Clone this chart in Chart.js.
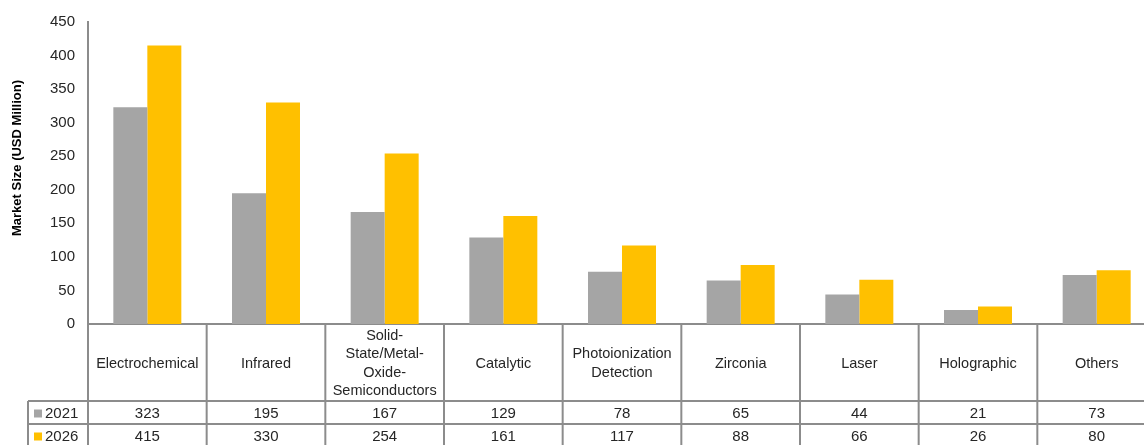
<!DOCTYPE html>
<html>
<head>
<meta charset="utf-8">
<script src="https://cdn.jsdelivr.net/npm/chart.js@4"></script>
<style>
  html, body { margin: 0; padding: 0; background: #fff; overflow: hidden; }
  #wrap { width: 1144px; height: 445px; overflow: hidden; }
  canvas { display: block; }
</style>
</head>
<body>
<div id="wrap"><canvas id="chart" width="1160" height="445"></canvas></div>
<script>
  var categories = [
    "Electrochemical",
    "Infrared",
    ["Solid-", "State/Metal-", "Oxide-", "Semiconductors"],
    "Catalytic",
    ["Photoionization", "Detection"],
    "Zirconia",
    "Laser",
    "Holographic",
    "Others"
  ];
  var seriesNames = ["2021", "2026"];
  var values2021 = [323, 195, 167, 129, 78, 65, 44, 21, 73];
  var values2026 = [415, 330, 254, 161, 117, 88, 66, 26, 80];
  var yTicks = [0, 50, 100, 150, 200, 250, 300, 350, 400, 450];

  var GRAY = "#a5a5a5";
  var GOLD = "#ffc000";
  var LINE = "#8c8c8c";
  var TEXT = "#262626";
  var FONT = "'Liberation Sans', Arial, sans-serif";

  var HEADER_BOTTOM = 401;
  var ROW1_BOTTOM = 424;
  var ROW2_BOTTOM = 447;
  var LEGEND_LEFT = 28;

  var tablePlugin = {
    id: "dataTable",
    afterDraw: function (chart) {
      var ctx = chart.ctx;
      var area = chart.chartArea;
      var x = chart.scales.x;
      var n = categories.length;
      var bounds = [area.left];
      for (var i = 0; i < n - 1; i++) {
        bounds.push((x.getPixelForValue(i) + x.getPixelForValue(i + 1)) / 2);
      }
      bounds.push(area.right);

      ctx.save();
      ctx.strokeStyle = LINE;
      ctx.lineWidth = 2;
      ctx.beginPath();
      // axis extension + column separators
      bounds.forEach(function (b, idx) {
        if (idx === bounds.length - 1) return;
        ctx.moveTo(b, area.bottom);
        ctx.lineTo(b, 445);
      });
      ctx.moveTo(area.right, area.bottom);
      ctx.lineTo(area.right, 445);
      // legend column
      ctx.moveTo(LEGEND_LEFT, HEADER_BOTTOM);
      ctx.lineTo(LEGEND_LEFT, 445);
      ctx.moveTo(LEGEND_LEFT, HEADER_BOTTOM);
      ctx.lineTo(area.right, HEADER_BOTTOM);
      ctx.moveTo(LEGEND_LEFT, ROW1_BOTTOM);
      ctx.lineTo(area.right, ROW1_BOTTOM);
      ctx.stroke();

      ctx.fillStyle = TEXT;
      ctx.textAlign = "center";
      ctx.textBaseline = "middle";

      // header labels
      ctx.font = "14.5px " + FONT;
      var headMid = (area.bottom + HEADER_BOTTOM) / 2 + 1;
      categories.forEach(function (label, i) {
        var cx = (bounds[i] + bounds[i + 1]) / 2;
        var lines = Array.isArray(label) ? label : [label];
        var lh = 18.3;
        var y0 = headMid - (lines.length - 1) * lh / 2;
        lines.forEach(function (t, k) {
          ctx.fillText(t, cx, y0 + k * lh);
        });
      });

      // values
      ctx.font = "15px " + FONT;
      var rows = [
        { name: seriesNames[0], color: GRAY, data: values2021, y: (HEADER_BOTTOM + ROW1_BOTTOM) / 2 + 1 },
        { name: seriesNames[1], color: GOLD, data: values2026, y: (ROW1_BOTTOM + ROW2_BOTTOM) / 2 + 1 }
      ];
      rows.forEach(function (row) {
        row.data.forEach(function (v, i) {
          var cx = (bounds[i] + bounds[i + 1]) / 2;
          ctx.fillText(String(v), cx, row.y);
        });
        ctx.fillStyle = row.color;
        ctx.fillRect(34, row.y - 4, 8, 8);
        ctx.fillStyle = TEXT;
        ctx.textAlign = "left";
        ctx.fillText(row.name, 45, row.y);
        ctx.textAlign = "center";
      });

      // y axis title
      ctx.save();
      ctx.translate(17, 158);
      ctx.rotate(-Math.PI / 2);
      ctx.font = "bold 13px " + FONT;
      ctx.fillStyle = "#000";
      ctx.fillText("Market Size (USD Million)", 0, 0);
      ctx.restore();

      ctx.restore();
    }
  };

  new Chart(document.getElementById("chart"), {
    type: "bar",
    data: {
      labels: categories,
      datasets: [
        { label: seriesNames[0], data: values2021, backgroundColor: GRAY },
        { label: seriesNames[1], data: values2026, backgroundColor: GOLD }
      ]
    },
    options: {
      responsive: false,
      animation: false,
      events: [],
      layout: { padding: { top: 20, right: 4, left: 0, bottom: 0 } },
      datasets: { bar: { categoryPercentage: 0.573, barPercentage: 1 } },
      plugins: { legend: { display: false }, tooltip: { enabled: false } },
      scales: {
        x: {
          ticks: { display: false },
          grid: { display: false, drawTicks: false },
          border: { display: true, color: LINE, width: 2 },
          afterFit: function (s) { s.height = 121; }
        },
        y: {
          min: 0,
          max: 450,
          afterBuildTicks: function (s) {
            s.ticks = yTicks.map(function (v) { return { value: v }; });
          },
          ticks: { padding: 13, color: TEXT, font: { family: FONT, size: 15 } },
          grid: { display: false, drawTicks: false },
          border: { display: true, color: LINE, width: 2 },
          afterFit: function (s) { s.width = 88; }
        }
      }
    },
    plugins: [tablePlugin]
  });
</script>
</body>
</html>
